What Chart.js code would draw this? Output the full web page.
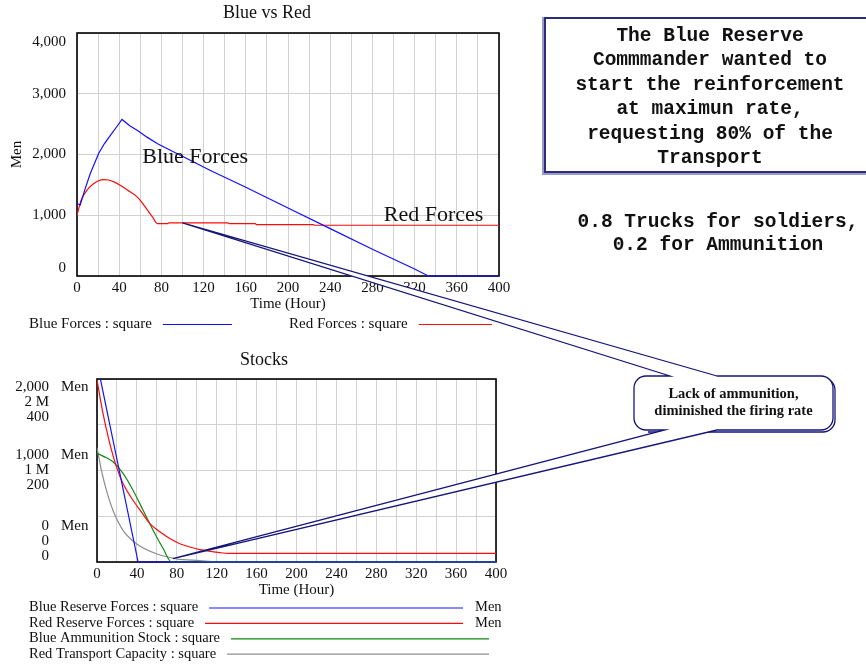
<!DOCTYPE html>
<html>
<head>
<meta charset="utf-8">
<script src="https://cdn.jsdelivr.net/npm/chart.js@4.4.1/dist/chart.umd.min.js"></script>
<style>
  html, body { margin: 0; padding: 0; background: #fff; }
  #page { position: relative; width: 866px; height: 667px; overflow: hidden; background: #fff; }
  #c1 { position: absolute; left: 0; top: 0; }
  #c2 { position: absolute; left: 0; top: 345px; }
  #over { position: absolute; left: 0; top: 0; pointer-events: none; }
  .mono { position: absolute; font-family: "Liberation Mono", "Courier New", monospace; font-weight: bold;
          font-size: 19.5px; text-align: center; color: #111; }
  #box1 { left: 544px; top: 17px; width: 328px; height: 147px; padding-top: 5px; line-height: 24.4px;
          border: 2px solid #2c2c7c; box-shadow: -1px 1px 0 1px #9a9ac8; background: #fff; }
  #note2 { left: 568px; top: 211px; width: 300px; line-height: 23.4px; }
  #callText { position: absolute; left: 634px; top: 385px; width: 199px; text-align: center;
              font-family: "Liberation Serif", "Times New Roman", serif; font-weight: bold;
              font-size: 14.5px; line-height: 17px; color: #111; }
</style>
</head>
<body>
<div id="page">
  <canvas id="c1" width="520" height="340"></canvas>
  <canvas id="c2" width="520" height="322"></canvas>
  <canvas id="over" width="866" height="667"></canvas>
  <div id="box1" class="mono">The Blue Reserve<br>Commmander wanted to<br>start the reinforcement<br>at maximun rate,<br>requesting 80% of the<br>Transport</div>
  <div id="note2" class="mono">0.8 Trucks for soldiers,<br>0.2 for Ammunition</div>
  <div id="callText">Lack of ammunition,<br>diminished the firing rate</div>
</div>
<script>
// ---- Blue vs Red (hours / men) ----
const blueForcesHours = [0, 3, 8, 12.6, 20.5, 26, 31.8, 38, 42.6, 50, 57, 66, 76, 88, 98, 126, 160, 200, 240, 280, 320, 333, 400];
const blueForces      = [1195, 1165, 1450, 1687, 2017, 2180, 2318, 2465, 2577, 2475, 2400, 2290, 2181, 2075, 1988, 1741, 1460, 1120, 780, 440, 115, 0, 0];
const redForcesHours  = [0, 4, 9.5, 15, 20, 25, 30, 35, 41, 48, 57, 62, 67, 72, 76, 86, 87, 143, 144, 169, 170, 224, 225, 400];
const redForces       = [1000, 1250, 1412, 1510, 1565, 1588, 1580, 1550, 1494, 1410, 1302, 1200, 1080, 960, 863, 863, 873, 873, 863, 863, 847, 847, 835, 835];
const topSeriesNames  = ['Blue Forces', 'Red Forces'];
const topLegendText   = ['Blue Forces : square', 'Red Forces : square'];
const topYTicks       = [0, 1000, 2000, 3000, 4000];
const topYTickLabels  = ['0', '1,000', '2,000', '3,000', '4,000'];
const xTicks          = [0, 40, 80, 120, 160, 200, 240, 280, 320, 360, 400];

// ---- Stocks ----
const blueReserveHours = [0, 41.2, 400];
const blueReserve      = [2180, 0, 0];
const redReserveHours  = [0, 6, 12.8, 19.5, 26.1, 36.1, 45, 53, 63, 73, 83, 93, 103, 113.4, 123, 132, 400];
const redReserve       = [1990, 1624, 1296, 1040, 858, 675, 540, 420, 330, 256, 200, 164, 135, 117, 103, 95, 95];
const ammoHours        = [0, 6, 16, 26.1, 36.1, 46.2, 56.2, 66.3, 74.7, 400];
const blueAmmo         = [1190000, 1157000, 1095000, 968000, 785000, 566000, 347000, 147000, 0, 0];
const transportHours   = [0, 4.4, 9.4, 16, 26.1, 39.5, 59.6, 79.7, 103, 120, 400];
const redTransport     = [250, 201, 157, 113, 69, 40, 18, 7, 3, 0, 0];
const stockLegendText  = ['Blue Reserve Forces : square', 'Red Reserve Forces : square',
                          'Blue Ammunition Stock : square', 'Red Transport Capacity : square'];
const stockLegendUnits = ['Men', 'Men', '', ''];
const menTicks         = [0, 1000, 2000];
const menTickLabels    = ['0', '1,000', '2,000'];
const ammoTickLabels   = ['0', '1 M', '2 M'];
const truckTickLabels  = ['0', '200', '400'];

// callout targets (hour, value)
const calloutTopAt    = [100, 873];
const calloutBottomAt = [76, 37];

const pts = (xs, ys) => xs.map((x, i) => ({ x: x, y: ys[i] }));
const SERIF = '"Liberation Serif", "Times New Roman", serif';
const GRID = '#d2d2d2';

function frame(chart) {
  const a = chart.chartArea, c = chart.ctx;
  c.save();
  c.strokeStyle = '#000';
  c.lineWidth = 1.6;
  c.strokeRect(a.left, a.top, a.right - a.left, a.bottom - a.top);
  c.restore();
}

function xLabels(chart) {
  const c = chart.ctx, a = chart.chartArea, x = chart.scales.x;
  c.font = '15px ' + SERIF;
  c.fillStyle = '#111';
  c.textAlign = 'center';
  c.textBaseline = 'middle';
  for (const v of xTicks) c.fillText(String(v), x.getPixelForValue(v), a.bottom + 12);
  c.fillText('Time (Hour)', (a.left + a.right) / 2, a.bottom + 28);
}

const topDecor = {
  id: 'topDecor',
  beforeDatasetsDraw(chart) { frame(chart); },
  afterDraw(chart) {
    const c = chart.ctx, a = chart.chartArea, x = chart.scales.x, y = chart.scales.y;
    c.save();
    xLabels(chart);
    c.textAlign = 'right';
    topYTicks.forEach((v, i) => {
      const py = Math.min(Math.max(y.getPixelForValue(v), a.top + 9), a.bottom - 8);
      c.fillText(topYTickLabels[i], 66, py);
    });
    // y title
    c.save();
    c.translate(17, (a.top + a.bottom) / 2);
    c.rotate(-Math.PI / 2);
    c.textAlign = 'center';
    c.fillText('Men', 0, 0);
    c.restore();
    // title
    c.textAlign = 'center';
    c.font = '18px ' + SERIF;
    c.fillText('Blue vs Red', 267, 13);
    // line names
    c.font = '22px ' + SERIF;
    c.fillText(topSeriesNames[0], x.getPixelForValue(112), y.getPixelForValue(1960));
    c.fillText(topSeriesNames[1], x.getPixelForValue(338), y.getPixelForValue(1000));
    // legend
    c.font = '15px ' + SERIF;
    c.textAlign = 'left';
    const lx = [29, 289], lend = [232, 492];
    chart.data.datasets.forEach((ds, i) => {
      c.fillStyle = '#111';
      c.fillText(topLegendText[i], lx[i], 324);
      const w = c.measureText(topLegendText[i]).width;
      c.strokeStyle = ds.borderColor;
      c.lineWidth = 1.2;
      c.beginPath();
      c.moveTo(lx[i] + w + 11, 324.5);
      c.lineTo(lend[i], 324.5);
      c.stroke();
    });
    c.restore();
  }
};

const stockDecor = {
  id: 'stockDecor',
  beforeDatasetsDraw(chart) { frame(chart); },
  afterDraw(chart) {
    const c = chart.ctx, a = chart.chartArea, y = chart.scales.yMen;
    c.save();
    xLabels(chart);
    // stacked multi-scale labels
    menTicks.forEach((v, i) => {
      let first = y.getPixelForValue(v) - 15;
      first = Math.max(first, a.top + 8);
      first = Math.min(first, a.bottom - 6 - 30);
      c.textAlign = 'right';
      c.fillText(menTickLabels[i], 49, first);
      c.fillText(ammoTickLabels[i], 49, first + 15);
      c.fillText(truckTickLabels[i], 49, first + 30);
      c.textAlign = 'left';
      c.fillText('Men', 61, first);
    });
    c.textAlign = 'center';
    c.font = '18px ' + SERIF;
    c.fillText('Stocks', 264, 15);
    // legend
    c.font = '14.5px ' + SERIF;
    const lend = [463, 463, 489, 489];
    chart.data.datasets.forEach((ds, i) => {
      const ly = 262.5 + i * 15.4;
      c.textAlign = 'left';
      c.fillStyle = '#111';
      c.fillText(stockLegendText[i], 29, ly);
      const w = c.measureText(stockLegendText[i]).width;
      c.strokeStyle = ds.borderColor;
      c.lineWidth = 1.2;
      c.beginPath();
      c.moveTo(29 + w + 11, ly + 0.5);
      c.lineTo(lend[i], ly + 0.5);
      c.stroke();
      if (stockLegendUnits[i]) c.fillText(stockLegendUnits[i], 475, ly);
    });
    c.restore();
  }
};

function lineSet(label, data, color, axis, smooth) {
  const d = { label: label, data: data, borderColor: color, borderWidth: 1.2, pointRadius: 0,
              tension: 0, fill: false, clip: { left: 0, top: 0, right: 0, bottom: 2 } };
  if (smooth) d.cubicInterpolationMode = 'monotone';
  if (axis) d.yAxisID = axis;
  return d;
}

const gridOpts = { color: GRID, lineWidth: 1, drawTicks: false };

const topChart = new Chart(document.getElementById('c1'), {
  type: 'line',
  data: {
    datasets: [
      lineSet(topSeriesNames[0], pts(blueForcesHours, blueForces), '#1010ff', null, false),
      lineSet(topSeriesNames[1], pts(redForcesHours, redForces), '#ff0a0a', null, true)
    ]
  },
  options: {
    responsive: false, animation: false, devicePixelRatio: 1,
    layout: { padding: { left: 77, top: 33, right: 21, bottom: 64 } },
    plugins: { legend: { display: false }, tooltip: { enabled: false } },
    scales: {
      x: { type: 'linear', min: 0, max: 400, ticks: { stepSize: 20, display: false }, grid: gridOpts, border: { display: false } },
      y: { min: 0, max: 4000, ticks: { stepSize: 1000, display: false }, grid: gridOpts, border: { display: false } }
    }
  },
  plugins: [topDecor]
});

const stockChart = new Chart(document.getElementById('c2'), {
  type: 'line',
  data: {
    datasets: [
      lineSet('Blue Reserve Forces', pts(blueReserveHours, blueReserve), '#1010ff', 'yMen', false),
      lineSet('Red Reserve Forces', pts(redReserveHours, redReserve), '#ff0a0a', 'yMen', true),
      lineSet('Blue Ammunition Stock', pts(ammoHours, blueAmmo), '#138a13', 'yAmmo', true),
      lineSet('Red Transport Capacity', pts(transportHours, redTransport), '#8c8c8c', 'yTruck', true)
    ]
  },
  options: {
    responsive: false, animation: false, devicePixelRatio: 1,
    layout: { padding: { left: 97, top: 34, right: 24, bottom: 105 } },
    plugins: { legend: { display: false }, tooltip: { enabled: false } },
    scales: {
      x: { type: 'linear', min: 0, max: 400, ticks: { stepSize: 20, display: false }, grid: gridOpts, border: { display: false } },
      yMen: { position: 'left', min: 0, max: 2000, ticks: { stepSize: 500, display: false }, grid: gridOpts, border: { display: false } },
      yAmmo: { display: false, min: 0, max: 2000000 },
      yTruck: { display: false, min: 0, max: 400 }
    }
  },
  plugins: [stockDecor]
});

// callout with two pointers, tips placed through the chart scales
function drawCallout() {
  const o = document.getElementById('over').getContext('2d');
  const tipA = [topChart.scales.x.getPixelForValue(calloutTopAt[0]),
                topChart.scales.y.getPixelForValue(calloutTopAt[1])];
  const tipB = [stockChart.scales.x.getPixelForValue(calloutBottomAt[0]),
                345 + stockChart.scales.yMen.getPixelForValue(calloutBottomAt[1])];
  const L = 634, T = 376, R = 833, B = 430, r = 12;
  o.strokeStyle = '#14147a';
  o.lineWidth = 1.3;
  // offset shadow outline
  o.beginPath();
  o.moveTo(L + r + 2, T + 2);
  o.arcTo(R + 2, T + 2, R + 2, B + 2, r);
  o.arcTo(R + 2, B + 2, L + 2, B + 2, r);
  o.lineTo(L + r + 2, B + 2);
  o.stroke();
  o.beginPath();
  o.moveTo(717, T);
  o.lineTo(tipA[0], tipA[1]);
  o.lineTo(670, T);
  o.lineTo(L + r, T);
  o.arcTo(L, T, L, T + r, r);
  o.lineTo(L, B - r);
  o.arcTo(L, B, L + r, B, r);
  o.lineTo(665, B);
  o.lineTo(tipB[0], tipB[1]);
  o.lineTo(717, B);
  o.lineTo(R - r, B);
  o.arcTo(R, B, R, B - r, r);
  o.lineTo(R, T + r);
  o.arcTo(R, T, R - r, T, r);
  o.closePath();
  o.fillStyle = '#fff';
  o.fill();
  o.stroke();
}
drawCallout();
</script>
</body>
</html>
